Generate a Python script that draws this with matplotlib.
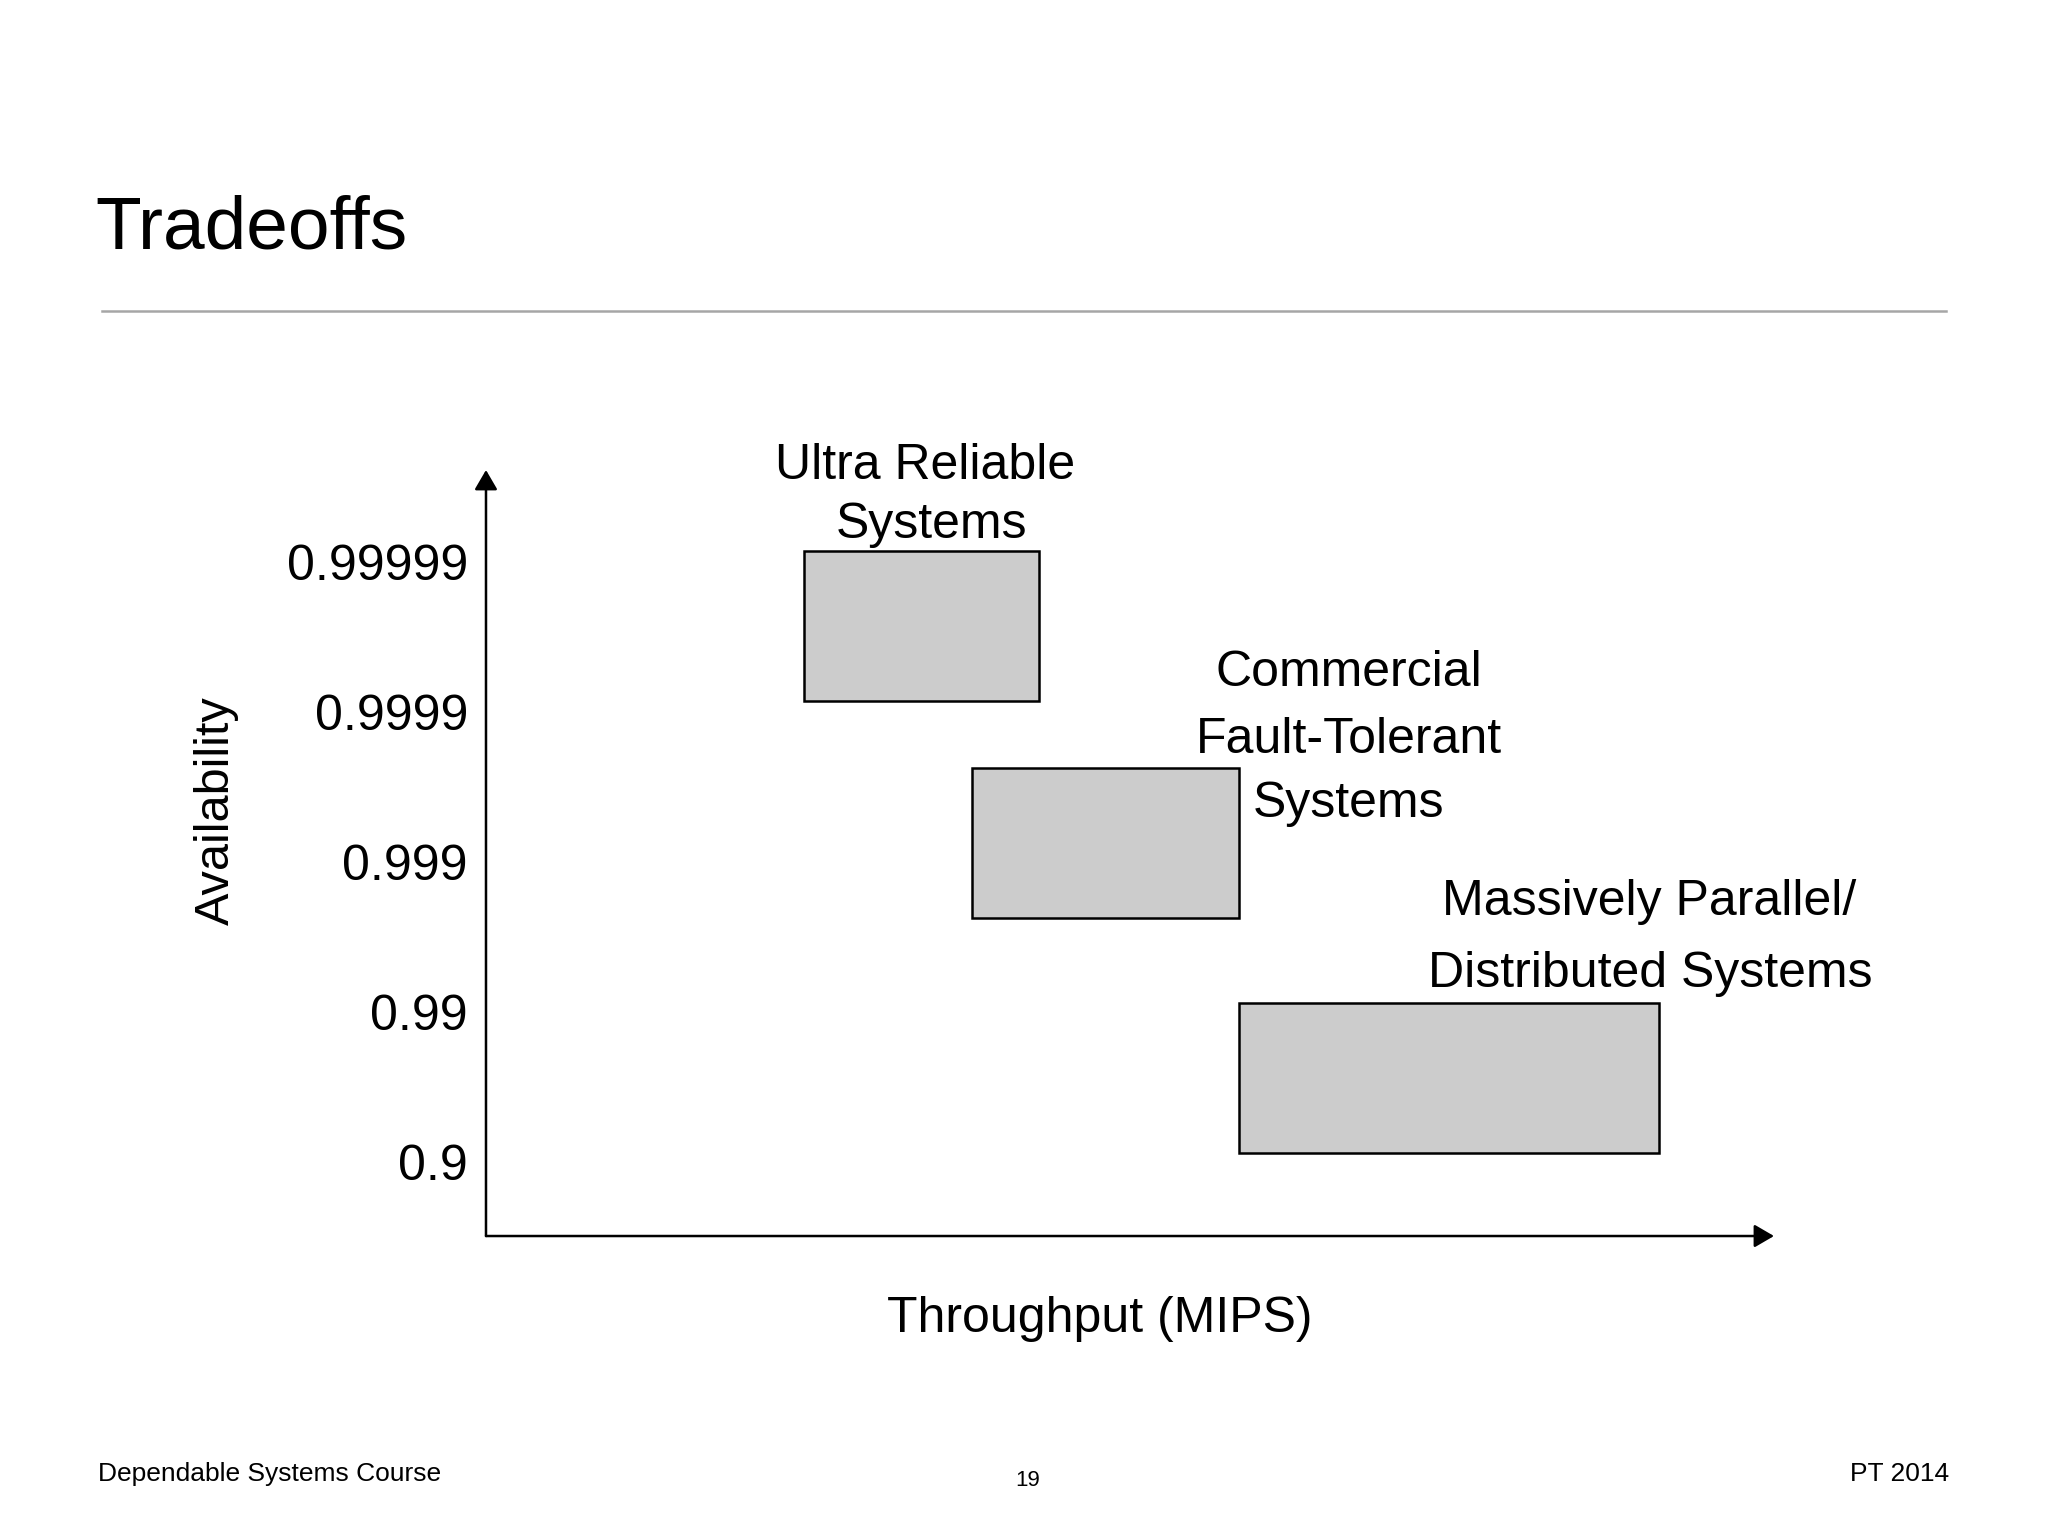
import matplotlib
matplotlib.use("Agg")
import matplotlib.pyplot as plt
from matplotlib.lines import Line2D
from matplotlib.patches import Rectangle

plt.rcParams['font.family'] = ['Liberation Sans', 'DejaVu Sans']

# availability levels (index on the y axis) and their labels
avail_labels = ['0.9', '0.99', '0.999', '0.9999', '0.99999']
avail_levels = [0, 1, 2, 3, 4]

# system classes: throughput range (arbitrary 0-10 units) and availability level range
system_names = ['Ultra Reliable\nSystems',
                'Commercial\nFault-Tolerant\nSystems',
                'Massively Parallel/\nDistributed Systems']
tput_lo = [2.47, 3.77, 5.85]
tput_hi = [4.29, 5.85, 9.11]
avail_lo = [3.07, 1.63, 0.06]
avail_hi = [4.07, 2.63, 1.06]

fig = plt.figure(figsize=(20.48, 15.36), dpi=100)
fig.patch.set_facecolor('white')

# slide title + rule
fig.text(0.0464, 0.8379, 'Tradeoffs', fontsize=54, va='baseline', ha='left')
fig.add_artist(Line2D([0.0498, 0.9502], [0.7975, 0.7975], color='#a6a6a6', lw=1.8))

ax = fig.add_axes([0.2373, 0.1953, 0.6289, 0.4987])
ax.set_xlim(0, 10)
ax.set_ylim(-0.493, 4.613)
for s in ax.spines.values():
    s.set_visible(False)
ax.set_xticks([])
ax.set_yticks(avail_levels)
ax.set_yticklabels(avail_labels, fontsize=36)
ax.tick_params(axis='y', length=0, pad=13)

# axis arrows
arrow = dict(arrowstyle='-|>,head_length=0.6,head_width=0.35', color='black',
             lw=1.8, shrinkA=0, shrinkB=0, mutation_scale=20)
ax.annotate('', xy=(1, 0), xytext=(0, 0), xycoords='axes fraction', arrowprops=arrow)
ax.annotate('', xy=(0, 1), xytext=(0, 0), xycoords='axes fraction', arrowprops=arrow)

for x0, x1, y0, y1 in zip(tput_lo, tput_hi, avail_lo, avail_hi):
    ax.add_patch(Rectangle((x0, y0), x1 - x0, y1 - y0, facecolor='#cccccc',
                           edgecolor='black', lw=1.8))

# box labels (line by line so spacing matches)
label_x = [[3.41, 3.46], [6.70, 6.70, 6.70], [9.03, 9.04]]
label_y = [[4.55, 4.16], [3.17, 2.73, 2.30], [1.65, 1.17]]
for name, xs, ys in zip(system_names, label_x, label_y):
    for line, lx, ly in zip(name.split('\n'), xs, ys):
        ax.text(lx, ly, line, fontsize=36, ha='center', va='baseline', clip_on=False)

fig.text(0.537, 0.1328, 'Throughput (MIPS)', fontsize=36, ha='center', va='baseline')
fig.text(0.1055, 0.472, 'Availability', fontsize=35, rotation=90, ha='center', va='center')

# footer
fig.text(0.0479, 0.0358, 'Dependable Systems Course', fontsize=19, ha='left', va='baseline')
fig.text(0.502, 0.0326, '19', fontsize=16, ha='center', va='baseline')
fig.text(0.9517, 0.0358, 'PT 2014', fontsize=19, ha='right', va='baseline')

fig.savefig('out.png', dpi=100, facecolor='white')
